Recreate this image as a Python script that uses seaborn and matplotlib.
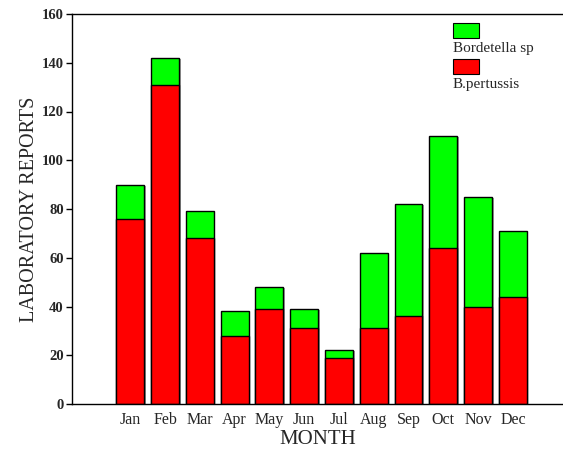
import matplotlib
matplotlib.use("Agg")
import matplotlib.pyplot as plt
import matplotlib.patheffects as pe
from matplotlib.patches import Rectangle
import seaborn as sns
import pandas as pd
import numpy as np

months = ["Jan", "Feb", "Mar", "Apr", "May", "Jun", "Jul", "Aug", "Sep", "Oct", "Nov", "Dec"]
pertussis = [76, 131, 68, 28, 39, 31, 19, 31, 36, 64, 40, 44]
bordetella_sp = [14, 11, 11, 10, 9, 8, 3, 31, 46, 46, 45, 27]
y_ticks = [0, 20, 40, 60, 80, 100, 120, 140, 160]

sns.set_style("white")
plt.rcParams["font.family"] = ["Liberation Serif", "DejaVu Serif"]

df = pd.DataFrame({"month": months, "pert": pertussis, "sp": bordetella_sp})
df["total"] = df["pert"] + df["sp"]

fig = plt.figure(figsize=(5.63, 4.5), dpi=100)
ax = fig.add_axes([72 / 563, 46 / 450, 1 - 72 / 563, 390 / 450])

shadow = [pe.SimplePatchShadow(offset=(1.2, -0.8), shadow_rgbFace="0.55", alpha=0.8), pe.Normal()]
sns.barplot(data=df, x="month", y="total", color="#00FF00", saturation=1,
            edgecolor="black", linewidth=1.0, width=0.8, ax=ax)
sns.barplot(data=df, x="month", y="pert", color="#FF0000", saturation=1,
            edgecolor="black", linewidth=1.0, width=0.8, ax=ax)
for p in ax.patches:
    p.set_path_effects(shadow)

ax.set_xlim(-1.675, 12.44)
ax.set_ylim(0, 160)
ax.set_yticks(y_ticks)
ax.set_yticklabels([str(v) for v in y_ticks], fontsize=10.5, fontweight="bold")
ax.set_xticks(range(len(months)))
ax.set_xticklabels(months, fontsize=11.5)
ax.set_xticks(np.arange(0.5, len(months) - 1, 1.0), minor=True)
ax.tick_params(axis="x", which="major", length=0, pad=6)
ax.tick_params(axis="x", which="minor", length=4, width=1, direction="out", color="black")
ax.tick_params(axis="y", length=4, width=1, direction="out", color="black", pad=2, left=True)

for s in ["left", "bottom", "top"]:
    ax.spines[s].set_visible(True)
    ax.spines[s].set_color("black")
    ax.spines[s].set_linewidth(1.0)
ax.spines["right"].set_visible(False)

ax.set_xlabel("MONTH", fontsize=15, labelpad=1)
ax.set_ylabel("LABORATORY REPORTS", fontsize=14.5, labelpad=2)

# legend (patch above label)
lx, lw_, lh = 453, 26, 15
for (ytop, col, lab) in [(23, "#00FF00", "Bordetella sp"), (59, "#FF0000", "B.pertussis")]:
    fig.patches.append(Rectangle((lx / 563, 1 - (ytop + lh) / 450), lw_ / 563, lh / 450,
                                 transform=fig.transFigure, facecolor=col,
                                 edgecolor="black", linewidth=0.8))
    fig.text(lx / 563, 1 - (ytop + lh + 4) / 450, lab, fontsize=11, va="top", ha="left")

fig.savefig("out.png", dpi=100)
